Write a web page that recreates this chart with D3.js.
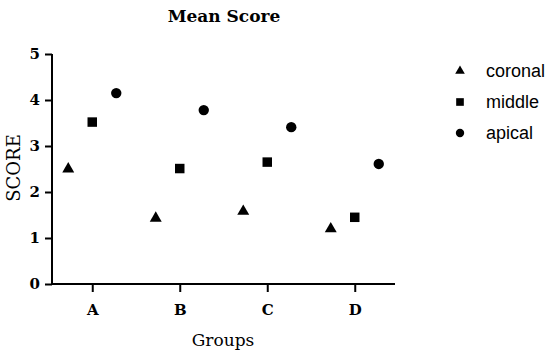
<!DOCTYPE html>
<html>
<head>
<meta charset="utf-8">
<script src="https://cdn.jsdelivr.net/npm/d3@7"></script>
<style>
  body { margin: 0; background: #fff; }
</style>
</head>
<body>
<div id="chart"></div>
<script>
'use strict';

// data
var groups = ["A", "B", "C", "D"];
var seriesNames = ["coronal", "middle", "apical"];
var coronal = [2.5, 1.43, 1.58, 1.2];
var middle  = [3.52, 2.51, 2.65, 1.45];
var apical  = [4.15, 3.78, 3.41, 2.61];
var yTicks  = [0, 1, 2, 3, 4, 5];

var seriesValues = [coronal, middle, apical];
var symbols = [d3.symbolTriangle, d3.symbolSquare, d3.symbolCircle];
var symbolSizes = [62, 90, 85];

var serif = "'DejaVu Serif', 'Liberation Serif', serif";

// dimensions
var width = 550, height = 357;
var margin = {top: 54, left: 52, right: 155, bottom: 73};
var innerW = width - margin.left - margin.right,
    innerH = height - margin.top - margin.bottom;

var svg = d3.select("#chart").append("svg")
    .attr("width", width)
    .attr("height", height);

var g = svg.append("g").attr("transform", "translate(" + margin.left + "," + margin.top + ")");

// scales
var x = d3.scalePoint().domain(groups).range([0, innerW]).padding(0.46);
var sub = d3.scaleBand().domain(seriesNames).range([-36, 36]);
var y = d3.scaleLinear().domain([0, 5]).range([innerH, 0]);

function styleAxis(s) {
    s.selectAll("path, line").attr("stroke", "#000").attr("stroke-width", 2);
    s.selectAll("text")
        .style("font-family", serif)
        .style("font-weight", "bold")
        .style("font-size", "15px")
        .attr("fill", "#000");
}

// axes
g.append("g")
    .attr("transform", "translate(0," + innerH + ")")
    .call(d3.axisBottom(x).tickSize(8).tickPadding(12).tickSizeOuter(0))
    .call(function(s) { s.select(".domain").attr("d", "M-1,0H" + innerW); })
    .call(styleAxis);

g.append("g")
    .call(d3.axisLeft(y).tickValues(yTicks).tickFormat(d3.format("d")).tickSize(7).tickPadding(5).tickSizeOuter(0))
    .call(function(s) { s.select(".domain").attr("d", "M0,0V" + (innerH + 1)); })
    .call(styleAxis);

// points
seriesNames.forEach(function(name, i) {
    g.selectAll(".pt-" + name)
        .data(seriesValues[i])
        .enter().append("path")
        .attr("class", "pt-" + name)
        .attr("transform", function(d, j) {
            return "translate(" + (x(groups[j]) + sub(name) + sub.bandwidth() / 2) + "," + y(d) + ")";
        })
        .attr("d", d3.symbol().type(symbols[i]).size(symbolSizes[i]))
        .attr("fill", "#000");
});

// title and axis labels
svg.append("text")
    .attr("x", 224).attr("y", 22)
    .attr("text-anchor", "middle")
    .style("font-family", serif)
    .style("font-weight", "bold")
    .style("font-size", "17px")
    .text("Mean Score");

svg.append("text")
    .attr("x", 223).attr("y", 346)
    .attr("text-anchor", "middle")
    .style("font-family", serif)
    .style("font-size", "17px")
    .text("Groups");

svg.append("text")
    .attr("transform", "translate(20,168) rotate(-90)")
    .attr("text-anchor", "middle")
    .style("font-family", serif)
    .style("font-size", "18px")
    .text("SCORE");

// legend
var legend = svg.append("g").attr("transform", "translate(460,71)");
var rows = legend.selectAll("g")
    .data(seriesNames)
    .enter().append("g")
    .attr("transform", function(d, i) { return "translate(0," + (i * 31) + ")"; });

rows.append("path")
    .attr("d", function(d, i) { return d3.symbol().type(symbols[i]).size(symbolSizes[i] * 0.65)(); })
    .attr("fill", "#000");

rows.append("text")
    .attr("x", 26).attr("y", 6)
    .style("font-family", "'Liberation Sans', Arial, sans-serif")
    .style("font-size", "18px")
    .text(function(d) { return d; });
</script>
</body>
</html>
